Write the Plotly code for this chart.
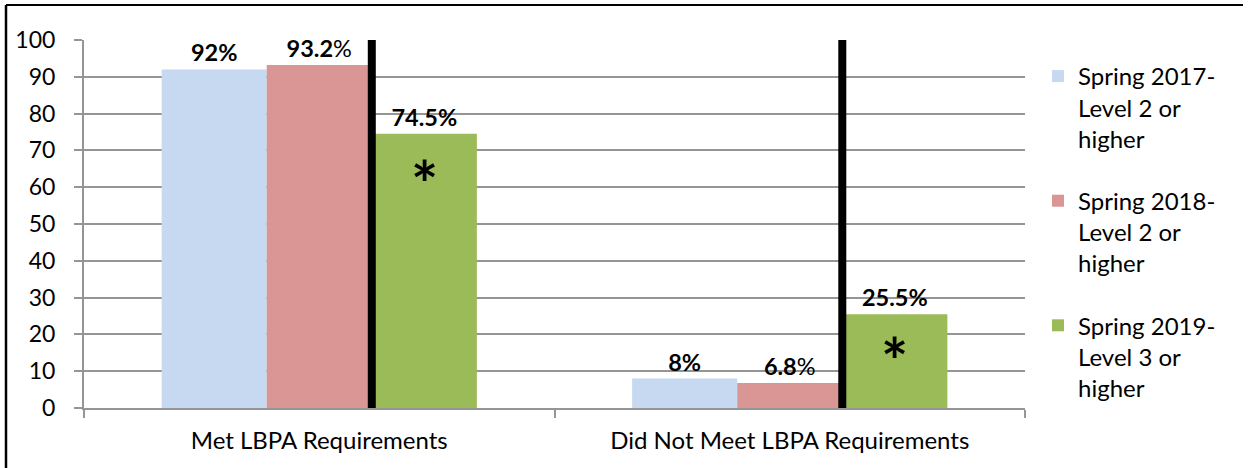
import plotly.graph_objects as go

categories = ["Met LBPA Requirements", "Did Not Meet LBPA Requirements"]
series_names = ["Spring 2017-<br>Level 2 or<br>higher",
                "Spring 2018-<br>Level 2 or<br>higher",
                "Spring 2019-<br>Level 3 or<br>higher"]
values_2017 = [92, 8]
values_2018 = [93.2, 6.8]
values_2019 = [74.5, 25.5]
labels_2017 = ["<b>92%</b>", "<b>8%</b>"]
labels_2018 = ["<b>93.2</b>%", "<b>6.8</b>%"]
labels_2019 = ["<b>74.5%</b>", "<b>25.5%</b>"]
asterisk_y = [61, 13]
colors = ["#C6D9F1", "#D99694", "#9BBB59"]
y_ticks = [0, 10, 20, 30, 40, 50, 60, 70, 80, 90, 100]

FONT = "Lato"
W, H = 1248, 468
L, R, T, B = 84, 223, 40, 60
PW, PH = W - L - R, H - T - B

fig = go.Figure()
for name, vals, labs, col, grp in zip(series_names,
                                      [values_2017, values_2018, values_2019],
                                      [labels_2017, labels_2018, labels_2019],
                                      colors, ["a", "b", "c"]):
    fig.add_trace(go.Bar(
        x=categories, y=vals, name=name, marker=dict(color=col, line=dict(width=0)),
        text=labs, textposition="outside", texttemplate="%{text}",
        textfont=dict(family=FONT, size=23.5, color="black"),
        cliponaxis=False, legendgroup=grp,
    ))

bargap = 0.33
bw = (1 - bargap) / 3
for i in range(len(categories)):
    xs = i + bw / 2
    fig.add_shape(type="line", xref="x", yref="y", x0=xs, x1=xs, y0=0, y1=100.5,
                  line=dict(color="black", width=8), layer="above")
    fig.add_annotation(x=i + bw, y=asterisk_y[i], text="<b>*</b>", showarrow=False,
                       yanchor="middle",
                       font=dict(family=FONT, size=64, color="black"))


def px_x(p):
    return (p - L) / PW


def px_y(p):
    return 1 - (p - T) / PH


fig.add_shape(type="line", xref="paper", yref="paper", x0=px_x(6), x1=px_x(1243),
              y0=px_y(5), y1=px_y(5), line=dict(color="black", width=2))
fig.add_shape(type="line", xref="paper", yref="paper", x0=px_x(6), x1=px_x(6),
              y0=px_y(5), y1=px_y(470), line=dict(color="black", width=2.5))

fig.update_layout(
    width=W, height=H,
    margin=dict(l=L, r=R, t=T, b=B, autoexpand=False),
    paper_bgcolor="white", plot_bgcolor="white",
    barmode="group", bargap=bargap, bargroupgap=0,
    font=dict(family=FONT, size=22, color="black"),
    showlegend=True,
    legend=dict(x=px_x(1038), y=px_y(54), xanchor="left", yanchor="top",
                font=dict(family=FONT, size=24, color="black"),
                traceorder="grouped", tracegroupgap=28, valign="top",
                itemwidth=30, bgcolor="rgba(0,0,0,0)"),
    xaxis=dict(type="category", tickson="boundaries", ticks="outside", ticklen=8,
               tickcolor="#959595", tickwidth=2, showline=True, linecolor="#959595",
               linewidth=2, showgrid=False, ticklabelstandoff=10, automargin=False,
               tickfont=dict(family=FONT, size=24, color="black")),
    yaxis=dict(range=[0, 100], tickvals=y_ticks, ticks="outside", ticklen=8,
               tickcolor="#959595", tickwidth=2, showline=True, linecolor="#959595",
               linewidth=2, showgrid=True, gridcolor="#959595", gridwidth=2,
               zeroline=False, ticklabelstandoff=14, automargin=False,
               tickfont=dict(family=FONT, size=23, color="black")),
)

fig.write_html("out.html", config={"displayModeBar": False},
               post_script="document.body.style.margin='0';document.body.style.padding='0';")
